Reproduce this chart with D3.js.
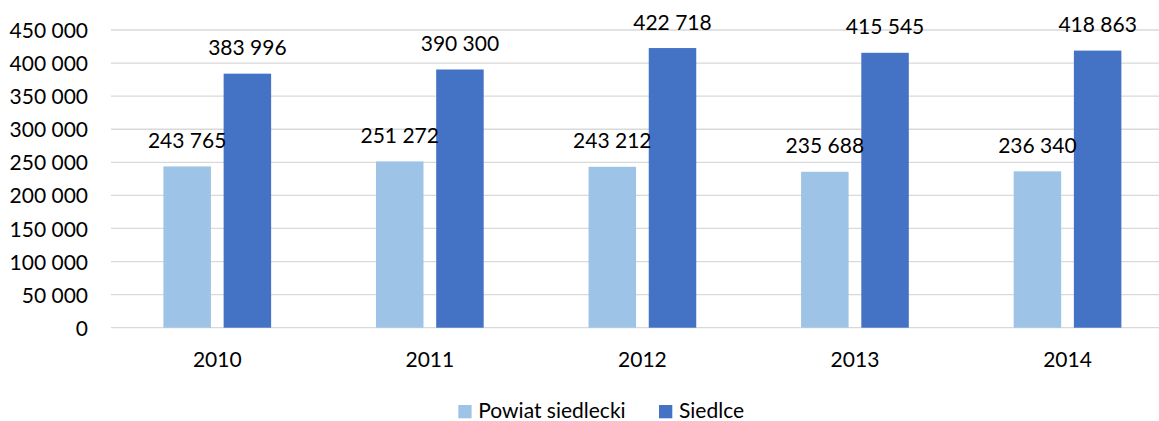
<!DOCTYPE html>
<html><head><meta charset="utf-8">
<script src="https://cdn.jsdelivr.net/npm/d3@7"></script>
<style>
html,body{margin:0;padding:0;background:#fff;}
svg{display:block;font-family:Lato,"Open Sans",sans-serif;}
</style></head>
<body>
<svg id="chart" width="1159" height="421"></svg>
<script>
const years = ["2010","2011","2012","2013","2014"];
const seriesNames = ["Powiat siedlecki","Siedlce"];
const powiat = [243765, 251272, 243212, 235688, 236340];
const siedlce = [383996, 390300, 422718, 415545, 418863];
const yTicks = [0,50000,100000,150000,200000,250000,300000,350000,400000,450000];
const colors = ["#9DC3E6","#4472C4"];

const svg = d3.select("#chart");
const fontSize = 21;
const fmt = v => d3.format(",")(v).replace(/,/g, " ");

const y = d3.scaleLinear().domain([0,450000]).range([327.7, 30]);
const x0 = d3.scaleBand().domain(years).range([111, 1173.8]).paddingInner(0).paddingOuter(0);
const pairW = 107.7;
const off = (x0.bandwidth() - pairW) / 2;
const x1 = d3.scaleBand().domain(seriesNames).range([off, off + pairW]).paddingInner(0.211).paddingOuter(0);

// gridlines
svg.append("g").selectAll("line").data(yTicks).join("line")
  .attr("x1", 111).attr("x2", 1159)
  .attr("y1", d => y(d)).attr("y2", d => y(d))
  .attr("stroke", "#D9D9D9").attr("stroke-width", 1.3);

// y axis labels
const yAxis = d3.axisLeft(y).tickValues(yTicks).tickFormat(fmt).tickSize(0).tickPadding(0);
const ya = svg.append("g").attr("transform", "translate(88,0)").call(yAxis);
ya.select(".domain").remove();
ya.selectAll("text").attr("font-size", fontSize).attr("font-family", "Lato").attr("fill", "#000").attr("dy", "0.36em");

// x axis labels
const xAxis = d3.axisBottom(x0).tickSize(0).tickPadding(0);
const xa = svg.append("g").attr("transform", "translate(0,366.7)").call(xAxis);
xa.select(".domain").remove();
xa.selectAll("text").attr("font-size", fontSize).attr("font-family", "Lato").attr("fill", "#000").attr("dy", 0);

const data = years.map((yr, i) => ({year: yr, values: [
  {name: seriesNames[0], v: powiat[i]},
  {name: seriesNames[1], v: siedlce[i]}
]}));

const groups = svg.append("g").selectAll("g").data(data).join("g")
  .attr("transform", d => `translate(${x0(d.year)},0)`);

groups.selectAll("rect").data(d => d.values).join("rect")
  .attr("x", d => x1(d.name))
  .attr("width", x1.bandwidth())
  .attr("y", d => y(d.v))
  .attr("height", d => y(0) - y(d.v))
  .attr("fill", (d, i) => colors[i]);

groups.selectAll("text.lbl").data(d => d.values).join("text")
  .attr("class", "lbl")
  .attr("x", d => x1(d.name) + x1.bandwidth() / 2)
  .attr("y", d => y(d.v) - 18.5)
  .attr("text-anchor", "middle")
  .attr("font-size", fontSize)
  .attr("fill", "#000")
  .text(d => fmt(d.v));

// legend
const leg = svg.append("g");
const legItems = [{name: seriesNames[0], x: 458.3}, {name: seriesNames[1], x: 659}];
legItems.forEach((it, i) => {
  leg.append("rect").attr("x", it.x).attr("y", 405).attr("width", 13.3).attr("height", 13.3).attr("fill", colors[i]);
  leg.append("text").attr("x", it.x + 20).attr("y", 418.3).attr("font-size", fontSize).attr("fill", "#000").text(it.name);
});
</script>
</body></html>
